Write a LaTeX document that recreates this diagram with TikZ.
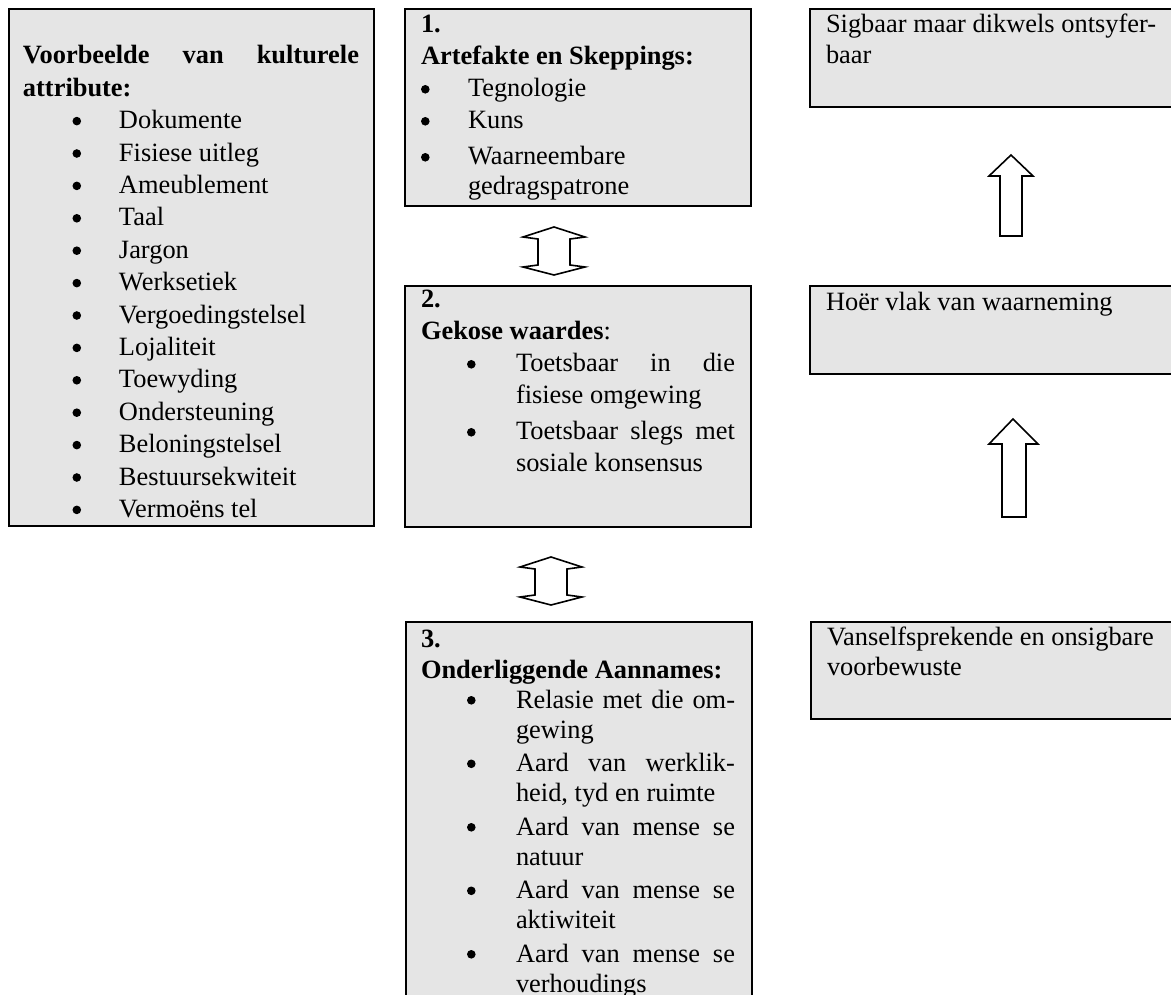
\documentclass[tikz,border=0pt]{standalone}
\usepackage{fontspec}
\setmainfont{Liberation Serif}
\tikzset{
  box/.style={draw=black, line width=2.6pt, fill=gray!20, inner sep=0pt, outer sep=0pt, anchor=north west},
  txt/.style={anchor=base west, inner sep=0pt, outer sep=0pt},
  blockarrow/.style={draw=black, line width=1.6pt, fill=white, line join=miter}
}
\newcommand\bodyfont[1]{\fontsize{26.4}{#1}\selectfont}
\newcommand\bdot{\tikz[baseline=0pt]\fill[black] (4.3pt,7.7pt) circle[radius=4.3pt];}
\newcommand\bitem[3]{\hspace*{#1}\makebox[#2][l]{\bdot}#3}
\begin{document}
\begin{tikzpicture}[x=1pt,y=-1pt]
\useasboundingbox (0,0) rectangle (1171,995);
\clip (0,0) rectangle (1171,995);
% boxes
\node[box, minimum width=365pt, minimum height=517pt] (L) at (9,9) {};
\node[box, minimum width=346pt, minimum height=197pt] (B1) at (405,9) {};
\node[box, minimum width=346pt, minimum height=241pt] (B2) at (405,286) {};
\node[box, minimum width=346pt, minimum height=390pt] (B3) at (406,622) {};
\node[box, minimum width=380pt, minimum height=98pt] (RA) at (810,9) {};
\node[box, minimum width=380pt, minimum height=88pt] (RB) at (810,286) {};
\node[box, minimum width=380pt, minimum height=97pt] (RC) at (811,622) {};
% left box text
\node[txt] (Lt) at (23,64) {\parbox[t]{336pt}{\bodyfont{32.4}%
\makebox[336pt][s]{\bfseries Voorbeelde van kulturele}\\
\textbf{attribute:}\\
\bitem{49.5pt}{46.5pt}{Dokumente}\\
\bitem{49.5pt}{46.5pt}{Fisiese uitleg}\\
\bitem{49.5pt}{46.5pt}{Ameublement}\\
\bitem{49.5pt}{46.5pt}{Taal}\\
\bitem{49.5pt}{46.5pt}{Jargon}\\
\bitem{49.5pt}{46.5pt}{Werksetiek}\\
\bitem{49.5pt}{46.5pt}{Vergoedingstelsel}\\
\bitem{49.5pt}{46.5pt}{Lojaliteit}\\
\bitem{49.5pt}{46.5pt}{Toewyding}\\
\bitem{49.5pt}{46.5pt}{Ondersteuning}\\
\bitem{49.5pt}{46.5pt}{Beloningstelsel}\\
\bitem{49.5pt}{46.5pt}{Bestuursekwiteit}\\
\bitem{49.5pt}{46.5pt}{Vermoëns tel}}};
% box 1 text
\node[txt] (B1t) at (421,33) {\parbox[t]{320pt}{\bodyfont{32}%
\textbf{1.}\\
\textbf{Artefakte en Skeppings:}\\
\bitem{0pt}{47pt}{Tegnologie}\\
\bitem{0pt}{47pt}{Kuns}\\[4pt]
\bitem{0pt}{47pt}{Waarneembare}\\[-2pt]
\hspace*{47pt}gedragspatrone}};
% box 2 text
\node[txt] (B2t) at (421,308) {\parbox[t]{320pt}{\bodyfont{32}%
\textbf{2.}\\
\textbf{Gekose waardes}:\\
\bitem{46pt}{49pt}{\makebox[219pt][s]{Toetsbaar in die}}\\
\hspace*{95pt}fisiese omgewing\\[4pt]
\bitem{46pt}{49pt}{\makebox[219pt][s]{Toetsbaar slegs met}}\\
\hspace*{95pt}sosiale konsensus}};
% box 3 text
\node[txt] (B3t) at (421,647) {\parbox[t]{320pt}{\bodyfont{30}%
\textbf{3.}\\[1pt]
\textbf{Onderliggende Aannames:}\\
\bitem{46pt}{49pt}{\makebox[219pt][s]{Relasie met die om-}}\\
\hspace*{95pt}gewing\\[3.5pt]
\bitem{46pt}{49pt}{\makebox[219pt][s]{Aard van werklik-}}\\
\hspace*{95pt}heid, tyd en ruimte\\[3.5pt]
\bitem{46pt}{49pt}{\makebox[219pt][s]{Aard van mense se}}\\
\hspace*{95pt}natuur\\[3.5pt]
\bitem{46pt}{49pt}{\makebox[219pt][s]{Aard van mense se}}\\
\hspace*{95pt}aktiwiteit\\[3.5pt]
\bitem{46pt}{49pt}{\makebox[219pt][s]{Aard van mense se}}\\
\hspace*{95pt}verhoudings}};
% right texts
\node[txt] (RAt) at (826,33) {\parbox[t]{345pt}{\bodyfont{31}%
Sigbaar maar dikwels ontsyfer-\\baar}};
\node[txt] (RBt) at (826,311) {\parbox[t]{345pt}{\bodyfont{31}%
Hoër vlak van waarneming}};
\node[txt] (RCt) at (827,645) {\parbox[t]{345pt}{\bodyfont{30}%
Vanselfsprekende en onsigbare\\voorbewuste}};
% double arrows between middle boxes
\draw[blockarrow] (554,227) -- (585,237) -- (570,239) -- (570,265) -- (585,267) -- (554,275)
  -- (523,267) -- (538,265) -- (538,239) -- (523,237) -- cycle;
\draw[blockarrow] (551,557) -- (582,567) -- (567,569) -- (567,595) -- (582,597) -- (551,605)
  -- (520,597) -- (535,595) -- (535,569) -- (520,567) -- cycle;
% up arrows on the right
\draw[blockarrow] (1011,155) -- (1033,176) -- (1022,176) -- (1022,236) -- (1000,236)
  -- (1000,176) -- (989,176) -- cycle;
\draw[blockarrow] (1013,419) -- (1038,444) -- (1026,444) -- (1026,517) -- (1002,517)
  -- (1002,444) -- (989,444) -- cycle;
\end{tikzpicture}
\end{document}
